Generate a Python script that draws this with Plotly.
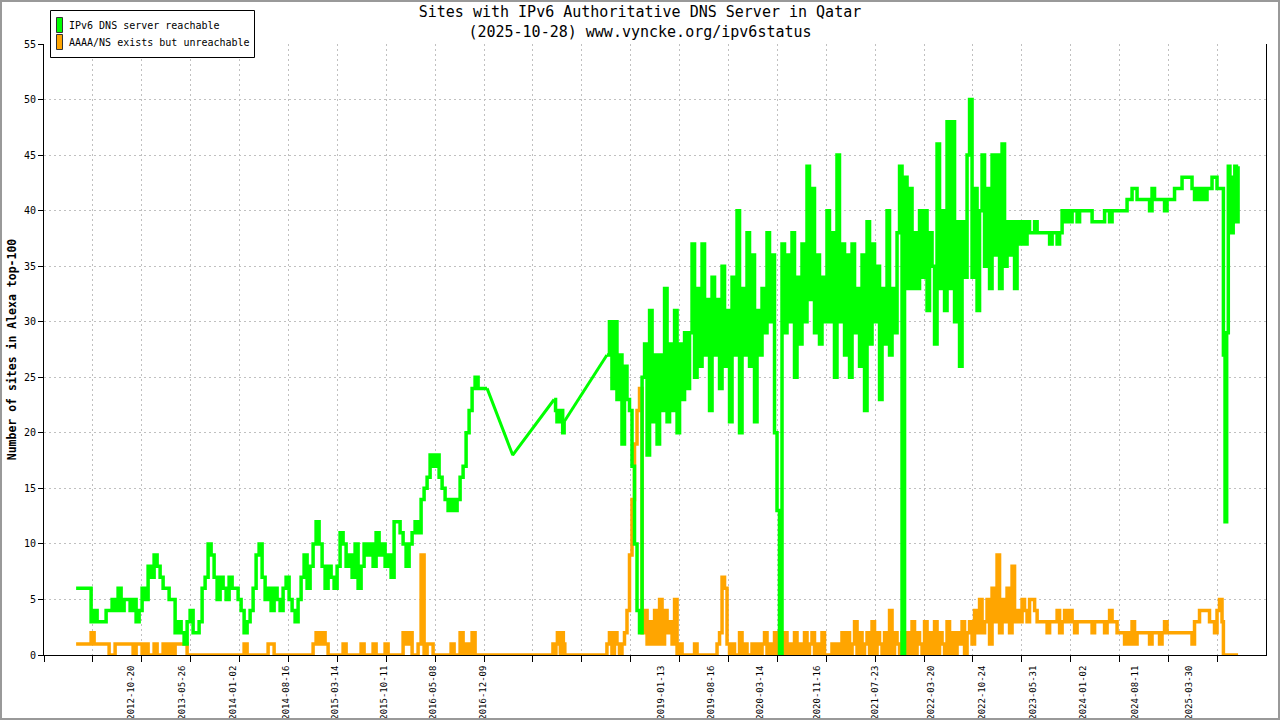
import pandas as pd
import plotly.graph_objects as go

GREEN = "#00ff00"
ORANGE = "#ffa500"
GRID = "#c0c0c0"
MONO = "DejaVu Sans Mono, monospace"

title_line1 = "Sites with IPv6 Authoritative DNS Server in Qatar"
title_line2 = "(2025-10-28) www.vyncke.org/ipv6status"
y_title = "Number of sites in Alexa top-100"
series_names = ["IPv6 DNS server reachable", "AAAA/NS exists but unreachable"]

tick_dates = ["2012-10-20", "2013-05-26", "2014-01-02", "2014-08-16", "2015-03-14",
              "2015-10-11", "2016-05-08", "2016-12-09", "2019-01-13", "2019-08-16",
              "2020-03-14", "2020-11-16", "2021-07-23", "2022-03-20", "2022-10-24",
              "2023-05-31", "2024-01-02", "2024-08-11", "2025-03-30"]

# ---------------- green : IPv6 DNS server reachable ----------------
g1_span = ("2012-02-26", "2016-12-27")
g1_vals = [6, 6, 6, 6, 6, 3, 4, 3, 3, 3, 4, 4, 5, 4, 6, 4, 5, 5, 4, 5,
           3, 4, 6, 5, 8, 7, 9, 8, 7, 6, 6, 5, 5, 2, 3, 2, 1, 3, 4, 2,
           2, 3, 6, 7, 10, 9, 7, 5, 7, 6, 5, 7, 6, 6, 5, 4, 2, 3, 4, 6,
           9, 10, 7, 5, 6, 4, 6, 5, 4, 6, 7, 5, 4, 3, 5, 7, 9, 6, 8, 10,
           12, 10, 8, 6, 8, 7, 6, 8, 11, 10, 8, 9, 7, 10, 6, 8, 10, 9, 10, 8,
           11, 9, 10, 8, 9, 7, 12, 12, 11, 10, 8, 10, 11, 12, 11, 14, 15, 16, 18, 17,
           18, 16, 15, 14, 13, 14, 13, 14, 16, 17, 20, 22, 24, 25, 24, 24, 24, 24]

gap1_dates = ["2016-12-27", "2017-04-16", "2017-10-11"]
gap1_vals = [24, 18, 23]

g2_span = ("2017-10-11", "2017-11-23")
g2_vals = [23, 22, 21, 22, 21, 22, 20, 21]

gap2_dates = ["2017-11-23", "2018-05-26"]
gap2_vals = [21, 27]

g3_span = ("2018-05-26", "2018-10-13")
g3_vals = [27, 30, 24, 30, 23, 27, 19, 26, 23, 22, 17, 10, 4, 2]

g4_span = ("2018-10-24", "2021-03-01")
g4_vals = [25, 28, 18, 31, 21, 27, 19, 27, 22, 33,
           21, 28, 22, 31, 20, 28, 23, 29, 24, 29,
           37, 25, 33, 26, 37, 27, 32, 22, 34, 27,
           32, 24, 35, 26, 31, 21, 34, 27, 40, 20,
           33, 27, 38, 26, 36, 21, 31, 27, 33, 29,
           38, 30, 36, 20, 13, 0,
           37, 29, 36, 30, 38, 25, 34, 28, 37, 30,
           44, 32, 42, 29, 36, 28, 34, 30, 40, 30,
           38, 25, 45, 30, 37]

g5_span = ("2021-03-12", "2023-05-16")
g5_vals = [27, 36, 25, 37, 29, 33, 26, 36, 22, 39,
           28, 37, 30, 35, 23, 33, 28, 40, 27, 33,
           29, 38, 44, 0,
           43, 33, 42, 33, 38, 33, 40, 34, 40, 31,
           38, 35, 28, 46, 33, 40, 31, 48, 33, 48,
           30, 39, 26,
           39, 34, 45, 50, 34, 42, 31, 40, 45, 35,
           42, 33, 45, 36, 45, 33,
           46, 35, 39, 36, 39, 33, 39, 37, 39, 37,
           39, 38]

g6_span = ("2023-05-27", "2025-08-20")
g6_vals = [38, 39, 38, 38, 38, 38, 38, 37, 38, 38,
           37, 38, 40, 39, 40, 39, 40, 40, 39, 40,
           40, 40, 40, 40, 39, 39, 39, 39, 39, 40,
           40, 39, 40, 40, 40, 40, 40, 40, 41, 41,
           42, 42, 41, 41, 41, 41, 41, 40, 42, 41,
           41, 41, 41, 40, 41, 41, 41, 42, 42, 42,
           43, 43, 43, 43, 42, 41, 42, 41, 42, 41,
           42, 42, 43, 43, 42, 42, 42]

g7_span = ("2025-08-26", "2025-10-28")
g7_vals = [27, 12, 29, 44, 40, 38, 43, 44, 39, 44]

# ---------------- orange : AAAA/NS exists but unreachable ----------------
o1_span = ("2012-02-26", "2016-12-27")
o1_vals = [1, 1, 1, 1, 1, 2, 1, 1, 1, 1, 1, 0, 0, 1, 1, 1, 1, 1, 1, 0,
           1, 1, 0, 1, 0, 0, 1, 0, 0, 1, 0, 1, 0, 1, 1, 1, 1, 0, 0, 0,
           0, 0, 0, 0, 0, 0, 0, 0, 0, 0, 0, 0, 0, 0, 0, 0, 1, 0, 0, 0,
           0, 0, 0, 0, 1, 1, 0, 0, 0, 0, 0, 0, 0, 0, 0, 0, 0, 0, 0, 1,
           2, 1, 2, 1, 0, 0, 0, 0, 0, 1, 0, 0, 0, 0, 0, 1, 0, 0, 0, 1,
           0, 0, 0, 1, 0, 0, 0, 0, 0, 2, 1, 2, 0, 0, 1, 9, 0, 1, 1, 0,
           0, 0, 0, 0, 0, 1, 0, 0, 2, 0, 1, 0, 2, 0, 0, 0, 0, 0]

o2_span = ("2017-10-06", "2017-11-26")
o2_vals = [1, 0, 1, 2, 1, 0, 2, 1, 0]

o3_span = ("2018-05-26", "2018-10-13")
o3_vals = [1, 2, 0, 2, 1, 0, 1, 2, 4, 9, 14, 19, 22, 24]

o4_span = ("2018-10-24", "2021-03-01")
o4_vals = [2, 4, 1, 3, 1, 4, 1, 5, 1, 4, 2, 3, 1, 5, 0, 1, 0, 0, 0, 0,
           0, 1, 0, 0, 0, 0, 0, 0, 0, 0, 1, 2, 7, 6, 1, 0, 1, 0, 0, 2,
           0, 1, 0, 0, 1, 0, 1, 0, 1, 2, 0, 1, 0, 2,
           0, 1,
           0, 2, 0, 1, 0, 2, 0, 1, 0, 2, 0, 1, 2, 0, 1, 0, 2, 0, 0, 0,
           1, 0, 1, 0, 2]

o5_span = ("2021-03-12", "2023-05-16")
o5_vals = [0, 2, 0, 1, 3, 0, 2, 0, 1, 2, 0, 3, 0, 2, 1, 0, 2, 0, 4, 0,
           2, 1, 0,
           2,
           0, 2, 0, 3, 0, 2, 1, 0, 3, 0, 2, 0, 3, 0, 2, 1, 0, 3, 0, 2,
           0, 2, 1,
           3, 0, 2, 3, 1, 4, 2, 5, 2, 3, 5, 1, 6, 3, 9, 2,
           5, 3, 6, 2, 8, 3, 4, 3, 5, 4, 3, 5]

o6_span = ("2023-05-27", "2025-08-20")
o6_vals = [5, 4, 3, 3, 3, 3, 2, 3, 3, 3,
           4, 2, 3, 4, 3, 4, 3, 2, 3, 3,
           3, 3, 3, 3, 2, 3, 3, 3, 3, 2,
           3, 4, 3, 3, 2, 2, 2, 1, 2, 1,
           3, 1, 2, 2, 2, 2, 2, 1, 2, 2,
           2, 1, 2, 3, 2, 2, 2, 2, 2, 2,
           2, 2, 2, 2, 1, 3, 3, 4, 4, 4,
           4, 3, 3, 2, 4, 5, 3]

o7_span = ("2025-08-26", "2025-10-28")
o7_vals = [0, 0]


def segment(span, vals):
    dates = pd.date_range(span[0], span[1], periods=len(vals))
    return list(dates), list(vals)


def join(pieces, breaks):
    xs, ys = [], []
    for i, (span, vals) in enumerate(pieces):
        if i > 0 and breaks[i - 1]:
            xs.append(None)
            ys.append(None)
        dx, dy = segment(span, vals)
        xs += dx
        ys += dy
    return xs, ys


green_x, green_y = join(
    [(g1_span, g1_vals), (g2_span, g2_vals), (g3_span, g3_vals), (g4_span, g4_vals),
     (g5_span, g5_vals), (g6_span, g6_vals), (g7_span, g7_vals)],
    [True, True, False, False, False, False])

orange_x, orange_y = join(
    [(o1_span, o1_vals), (o2_span, o2_vals), (o3_span, o3_vals), (o4_span, o4_vals),
     (o5_span, o5_vals), (o6_span, o6_vals), (o7_span, o7_vals)],
    [False] * 6)

gap_x = list(pd.to_datetime(gap1_dates)) + [None] + list(pd.to_datetime(gap2_dates))
gap_y = gap1_vals + [None] + gap2_vals

L, R, T, B = 44, 14, 44, 65
W, H = 1280, 720
pw, ph = W - L - R, H - T - B


def px_x(p):
    return (p - L) / pw


def px_y(p):
    return (H - B - p) / ph


fig = go.Figure()

fig.add_trace(go.Scatter(x=orange_x, y=orange_y, mode="lines", name=series_names[1],
                         showlegend=False,
                         line=dict(color=ORANGE, width=3.5, shape="hv"),
                         connectgaps=False, hoverinfo="skip"))
fig.add_trace(go.Scatter(x=green_x, y=green_y, mode="lines", name=series_names[0],
                         showlegend=False,
                         line=dict(color=GREEN, width=3.5, shape="hv"),
                         connectgaps=False, hoverinfo="skip"))
fig.add_trace(go.Scatter(x=gap_x, y=gap_y, mode="lines", name=series_names[0],
                         showlegend=False,
                         line=dict(color=GREEN, width=3),
                         connectgaps=False, hoverinfo="skip"))

# key box in the top-left corner, drawn like the original
key_shapes = [
    dict(type="rect", xref="paper", yref="paper", layer="above",
         x0=px_x(50.5), x1=px_x(254.5), y0=px_y(57.5), y1=px_y(10.5),
         line=dict(color="black", width=1), fillcolor="white"),
    dict(type="rect", xref="paper", yref="paper", layer="above",
         x0=px_x(56.5), x1=px_x(62.5), y0=px_y(32.5), y1=px_y(17.5),
         line=dict(color="#333333", width=1), fillcolor=GREEN),
    dict(type="rect", xref="paper", yref="paper", layer="above",
         x0=px_x(56.5), x1=px_x(62.5), y0=px_y(49.5), y1=px_y(34.5),
         line=dict(color="#333333", width=1), fillcolor=ORANGE),
]
key_labels = [
    dict(text=series_names[0], xref="paper", yref="paper", x=px_x(67), y=px_y(25.5),
         xanchor="left", yanchor="middle", showarrow=False,
         font=dict(family=MONO, size=10, color="black")),
    dict(text=series_names[1], xref="paper", yref="paper", x=px_x(67), y=px_y(43),
         xanchor="left", yanchor="middle", showarrow=False,
         font=dict(family=MONO, size=10, color="black")),
]

frame = dict(type="rect", xref="paper", yref="paper", layer="above",
             x0=px_x(1), x1=px_x(W - 1), y0=px_y(H - 1), y1=px_y(1),
             line=dict(color="#999999", width=2), fillcolor="rgba(0,0,0,0)")

fig.update_layout(
    width=W, height=H,
    margin=dict(l=L, r=R, t=T, b=B, autoexpand=False),
    paper_bgcolor="white", plot_bgcolor="white",
    font=dict(family=MONO, color="black"),
    title=dict(text=title_line1 + "<br>" + title_line2,
               x=0.5, xref="container", xanchor="center",
               y=1 - 17 / H, yref="container", yanchor="top",
               font=dict(family=MONO, size=15, color="black")),
    showlegend=False,
    xaxis=dict(type="date", range=["2011-10-11", "2026-02-25"],
               tickmode="array", tickvals=tick_dates, ticktext=tick_dates,
               tickangle=-90, ticks="outside", ticklen=6, tickcolor="rgba(0,0,0,0)",
               tickfont=dict(family=MONO, size=9, color="black"),
               showgrid=False, zeroline=False,
               showline=True, linecolor="black", linewidth=1,
               minor=dict(tickmode="linear", tick0="2011-10-11", dtick=210.1 * 86400000,
                          ticks="outside", ticklen=6, tickcolor="black", tickwidth=1,
                          showgrid=True, gridcolor=GRID, griddash="2px,3px", gridwidth=1)),
    yaxis=dict(range=[0, 55], tickmode="linear", tick0=0, dtick=5,
               ticks="outside", ticklen=5, tickcolor="black",
               tickfont=dict(family=MONO, size=10, color="black"),
               showgrid=True, gridcolor=GRID, griddash="2px,3px", gridwidth=1,
               zeroline=False, showline=True, linecolor="black", linewidth=1, mirror=True,
               title=dict(text="<b>" + y_title + "</b>", standoff=4,
                          font=dict(family=MONO, size=11.5, color="black"))),
    shapes=key_shapes + [frame],
    annotations=key_labels,
)

fig.write_html("out.html", config={"displayModeBar": False},
               post_script="document.body.style.margin='0px';")
